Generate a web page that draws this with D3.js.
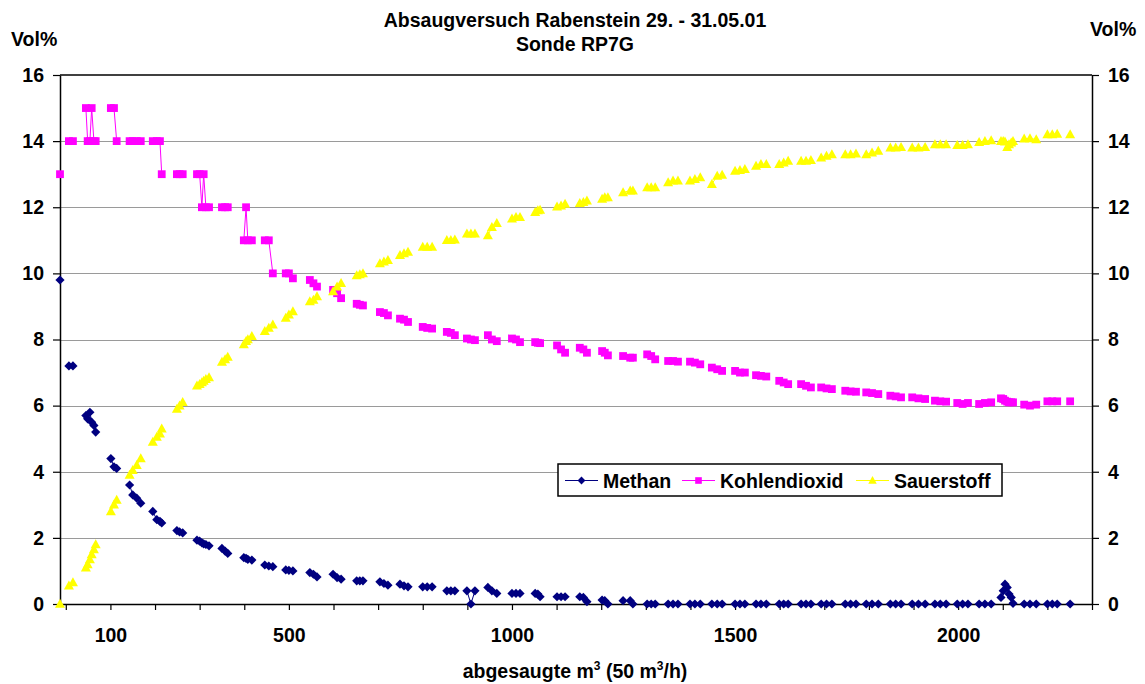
<!DOCTYPE html>
<html><head><meta charset="utf-8">
<script src="https://cdn.jsdelivr.net/npm/d3@7"></script>
<style>
body{margin:0;background:#fff}
svg text{font-family:"Liberation Sans",Arial,sans-serif;font-weight:bold;fill:#000}
</style>
</head><body>
<svg id="chart" width="1145" height="684"></svg>
<script>
// ---- data ----
const chartTitle = ["Absaugversuch Rabenstein 29. - 31.05.01", "Sonde RP7G"];
const seriesNames = ["Methan", "Kohlendioxid", "Sauerstoff"];
const yTicks = [0, 2, 4, 6, 8, 10, 12, 14, 16];
const xTickMarks = [0,100,200,300,400,500,600,700,800,900,1000,1100,1200,1300,1400,1500,1600,1700,1800,1900,2000,2100,2200,2300];
const xTickLabels = [100, 500, 1000, 1500, 2000];

// measurements come in runs (empty cells between runs -> no connecting line)
const runLengths = [1,2,6,3,4,4,3,6,3,4,3,3, 3,3,3,3,3,3,3, 3,3, 3,3,3,3,3, 3,
  3,3,3,3,3,3,3,3,3,3,3,3,3,3,3,3, 7, 3,3, 1];

const volume = [-13, 7,16, 45,49,54,58,63,67, 101,108,114, 143,150,159,168,
  195,204,211,215, 249,255,262, 294,300,305,309,314,321, 350,357,363, 399,404,408,417,
  446,455,464, 493,500,509, 547,555,563, 599,608,617, 652,659,666, 704,713,722,
  749,758,767, 800,810,821, 854,863,872, 899,908,917, 946,955,966,
  1000,1009,1018, 1052,1058,1063, 1101,1110,1119, 1152,1160,1168, 1202,1208,1215,
  1249,1265,1271, 1303,1312,1321, 1350,1361,1372, 1399,1410,1422, 1448,1460,1471,
  1500,1511,1522, 1547,1558,1570, 1599,1609,1619, 1648,1659,1670, 1693,1705,1717,
  1747,1759,1771, 1794,1807,1821, 1848,1860,1872, 1897,1911,1926, 1948,1960,1973,
  1998,2010,2022, 2047,2060,2074, 2096,2101,2105,2110,2114,2119,2123,
  2148,2161,2175, 2200,2211,2222, 2251];

const methan = [9.8, 7.2,7.2, 5.7,5.6,5.8,5.5,5.4,5.2, 4.4,4.15,4.1, 3.6,3.3,3.2,3.05,
  2.8,2.55,2.5,2.45, 2.22,2.18,2.15, 1.93,1.9,1.85,1.82,1.8,1.76, 1.68,1.6,1.53, 1.4,1.38,1.35,1.33,
  1.18,1.15,1.13, 1.03,1.02,1.0, 0.95,0.9,0.82, 0.9,0.8,0.75, 0.7,0.7,0.7, 0.67,0.62,0.57,
  0.6,0.55,0.52, 0.52,0.52,0.52, 0.4,0.4,0.4, 0.4,0,0.4, 0.5,0.4,0.32,
  0.32,0.32,0.32, 0.32,0.3,0.22, 0.22,0.22,0.22, 0.22,0.2,0.07, 0.12,0.1,0,
  0.1,0.1,0, 0,0,0, 0,0,0, 0,0,0, 0,0,0,
  0,0,0, 0,0,0, 0,0,0, 0,0,0, 0,0,0,
  0,0,0, 0,0,0, 0,0,0, 0,0,0, 0,0,0,
  0,0,0, 0,0,0, 0.2,0.4,0.6,0.5,0.3,0.2,0.02,
  0,0,0, 0,0,0, 0];

const kohlendioxid = [13, 14,14, 15,14,14,15,14,14, 15,15,14, 14,14,14,14,
  14,14,14,13, 13,13,13, 13,13,12,13,12,12, 12,12,12, 11,12,11,11,
  11,11,10, 10,10,9.85, 9.8,9.7,9.6, 9.5,9.4,9.25, 9.08,9.05,9.03, 8.83,8.8,8.73,
  8.63,8.6,8.53, 8.38,8.35,8.33, 8.23,8.2,8.13, 8.03,8.0,7.98, 8.13,8.0,7.95,
  8.03,8.0,7.92, 7.92,7.9,7.89, 7.82,7.7,7.6, 7.75,7.7,7.6, 7.65,7.6,7.52,
  7.5,7.45,7.45, 7.55,7.5,7.4, 7.35,7.35,7.33, 7.33,7.3,7.25, 7.15,7.1,7.05,
  7.05,7.0,7.0, 6.92,6.9,6.88, 6.75,6.7,6.65, 6.65,6.6,6.55, 6.55,6.52,6.5,
  6.45,6.43,6.42, 6.4,6.38,6.35, 6.3,6.28,6.25, 6.25,6.22,6.2, 6.15,6.13,6.12,
  6.08,6.05,6.08, 6.05,6.08,6.1, 6.22,6.2,6.15,6.12,6.1,6.1,6.1,
  6.03,6.0,6.03, 6.13,6.13,6.13, 6.13];

const sauerstoff = [0, 0.55,0.65, 1.1,1.2,1.35,1.5,1.65,1.8, 2.8,3.0,3.15, 3.9,4.05,4.2,4.4,
  4.9,5.05,5.15,5.3, 5.9,6.0,6.1, 6.6,6.65,6.7,6.75,6.8,6.85, 7.32,7.4,7.47, 7.85,7.95,8.0,8.1,
  8.25,8.35,8.45, 8.65,8.75,8.85, 9.15,9.2,9.3, 9.45,9.6,9.7, 9.94,9.97,10.0, 10.3,10.35,10.4,
  10.55,10.6,10.65, 10.8,10.8,10.8, 11.0,11.0,11.02, 11.2,11.2,11.2, 11.15,11.4,11.52,
  11.65,11.7,11.7, 11.85,11.9,11.92, 12.02,12.05,12.1, 12.12,12.15,12.2, 12.25,12.3,12.3,
  12.45,12.5,12.5, 12.6,12.6,12.6, 12.75,12.8,12.8, 12.8,12.85,12.9, 12.7,12.95,12.98,
  13.1,13.12,13.15, 13.25,13.3,13.3, 13.3,13.35,13.4, 13.4,13.4,13.42, 13.5,13.55,13.6,
  13.6,13.6,13.62, 13.6,13.65,13.7, 13.8,13.8,13.82, 13.8,13.8,13.82, 13.9,13.9,13.9,
  13.88,13.88,13.9, 13.97,14.0,14.02, 14.0,14.0,13.98,13.82,13.9,13.95,14.0,
  14.07,14.08,14.05, 14.2,14.2,14.22, 14.2];

(function(){
const W = 1145, H = 684;
const FONT = 19.5;
const svg = d3.select("#chart");
svg.append("rect").attr("width", W).attr("height", H).attr("fill", "#fff");

const pLeft = 60, pRight = 1092, pTop = 75, pBottom = 604;
const x = d3.scaleLinear().domain([-13, 2300]).range([pLeft, pRight]);
const y = d3.scaleLinear().domain([0, 16]).range([pBottom, pTop]);

// gridlines
svg.append("g").selectAll("line").data(yTicks.filter(v => v > 0 && v < 16)).join("line")
  .attr("x1", pLeft).attr("x2", pRight)
  .attr("y1", d => Math.round(y(d)) + 0.5).attr("y2", d => Math.round(y(d)) + 0.5)
  .attr("stroke", "#9a9a9a").attr("stroke-width", 1);

// plot border (top)
svg.append("line").attr("x1", pLeft).attr("x2", pRight).attr("y1", pTop).attr("y2", pTop)
  .attr("stroke", "#000").attr("stroke-width", 1.5);

function styleAxis(g) {
  g.attr("font-size", FONT).attr("font-family", null);
  g.selectAll(".domain").attr("stroke", "#000").attr("stroke-width", 1.5);
  g.selectAll(".tick line").attr("stroke", "#000").attr("stroke-width", 1.2);
  g.selectAll(".tick text").attr("fill", "#000");
}

svg.append("g").attr("transform", `translate(${pLeft},0)`)
  .call(d3.axisLeft(y).tickValues(yTicks).tickSize(7).tickPadding(9).tickSizeOuter(0))
  .call(styleAxis);
svg.append("g").attr("transform", `translate(${pRight},0)`)
  .call(d3.axisRight(y).tickValues(yTicks).tickSize(7).tickPadding(9).tickSizeOuter(0))
  .call(styleAxis);
svg.append("g").attr("transform", `translate(0,${pBottom})`)
  .call(d3.axisBottom(x).tickValues(xTickMarks).tickSize(6).tickPadding(18).tickSizeOuter(0)
    .tickFormat(d => xTickLabels.includes(d) ? String(d) : ""))
  .call(styleAxis);

// points with run ids
const runId = [];
runLengths.forEach((n, r) => { for (let k = 0; k < n; k++) runId.push(r); });

const seriesValues = [methan, kohlendioxid, sauerstoff];
const colors = ["#000080", "#FF00FF", "#FFFF00"];
const markerPaths = [
  "M0,-4.6L4.6,0L0,4.6L-4.6,0Z",
  "M-3.9,-3.9h7.8v7.8h-7.8Z",
  "M0,-5.2L5,3.8L-5,3.8Z"
];

const line = d3.line().x(d => x(d.x)).y(d => y(d.v));

seriesValues.forEach((vals, s) => {
  const pts = vals.map((v, i) => ({ x: volume[i], v, run: runId[i] }));
  const runs = Array.from(d3.group(pts, d => d.run).values());
  const g = svg.append("g");
  g.selectAll("path.l").data(runs.filter(r => r.length > 1)).join("path")
    .attr("class", "l").attr("d", line).attr("fill", "none")
    .attr("stroke", colors[s]).attr("stroke-width", 1);
  g.selectAll("path.m").data(pts).join("path")
    .attr("class", "m").attr("d", markerPaths[s]).attr("fill", colors[s])
    .attr("transform", d => `translate(${x(d.x)},${y(d.v)})`);
});

// titles
svg.append("text").attr("x", 575).attr("y", 27).attr("text-anchor", "middle")
  .attr("font-size", FONT).text(chartTitle[0]);
svg.append("text").attr("x", 575).attr("y", 51).attr("text-anchor", "middle")
  .attr("font-size", FONT).text(chartTitle[1]);
svg.append("text").attr("x", 11).attr("y", 46).attr("font-size", FONT).text("Vol%");
svg.append("text").attr("x", 1090).attr("y", 36).attr("font-size", FONT).text("Vol%");

const xt = svg.append("text").attr("x", 575).attr("y", 678).attr("text-anchor", "middle")
  .attr("font-size", FONT);
xt.append("tspan").text("abgesaugte m");
xt.append("tspan").attr("font-size", 12).attr("dy", -8).text("3");
xt.append("tspan").attr("dy", 8).text(" (50 m");
xt.append("tspan").attr("font-size", 12).attr("dy", -8).text("3");
xt.append("tspan").attr("dy", 8).text("/h)");

// legend
const lg = svg.append("g");
lg.append("rect").attr("x", 558).attr("y", 464).attr("width", 444).attr("height", 32)
  .attr("fill", "#fff").attr("stroke", "#000").attr("stroke-width", 1.5);
const legendX = [565, 682, 856];
seriesNames.forEach((name, s) => {
  const lx = legendX[s];
  lg.append("line").attr("x1", lx).attr("x2", lx + 33).attr("y1", 480.5).attr("y2", 480.5)
    .attr("stroke", colors[s]).attr("stroke-width", 1.2);
  lg.append("path").attr("d", markerPaths[s]).attr("fill", colors[s])
    .attr("transform", `translate(${lx + 16.5},480.5) scale(0.85)`);
  lg.append("text").attr("x", lx + 38).attr("y", 487.5).attr("font-size", FONT).text(name);
});
})();
</script>
</body></html>
